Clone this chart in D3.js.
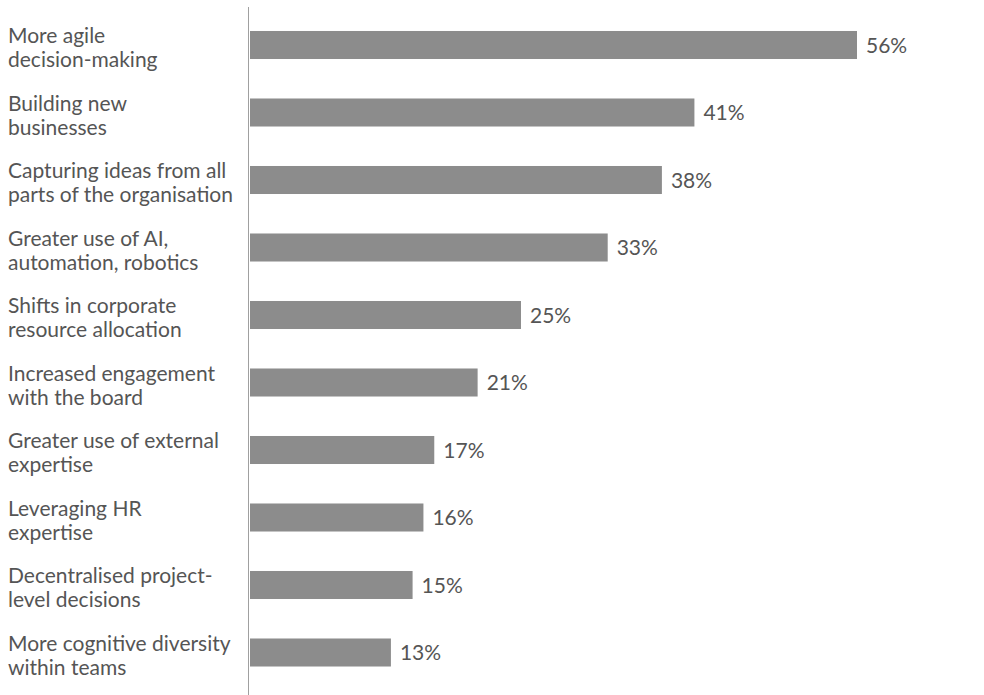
<!DOCTYPE html>
<html>
<head>
<meta charset="utf-8">
<script src="https://cdn.jsdelivr.net/npm/d3@7"></script>
<style>
  html, body { margin: 0; padding: 0; background: #fff; }
  svg { display: block; }
  text { font-family: Lato, "Open Sans", sans-serif; }
</style>
</head>
<body>
<svg id="chart" width="984" height="695"></svg>
<script>
// Share of respondents citing each change
const categories = [
  ["More agile", "decision-making"],
  ["Building new", "businesses"],
  ["Capturing ideas from all", "parts of the organisation"],
  ["Greater use of AI,", "automation, robotics"],
  ["Shifts in corporate", "resource allocation"],
  ["Increased engagement", "with the board"],
  ["Greater use of external", "expertise"],
  ["Leveraging HR", "expertise"],
  ["Decentralised project-", "level decisions"],
  ["More cognitive diversity", "within teams"]
];
const values = [56, 41, 38, 33, 25, 21, 17, 16, 15, 13];
const valueLabels = ["56%", "41%", "38%", "33%", "25%", "21%", "17%", "16%", "15%", "13%"];

const svg = d3.select("#chart");
const axisX = 248.5;
const barStart = 250;

const keys = categories.map(c => c.join(" "));

const y = d3.scaleBand()
  .domain(keys)
  .range([11.25, 686.25])
  .paddingInner(0.585)
  .paddingOuter(0.2925);

const x = d3.scaleLinear()
  .domain([0, 56])
  .range([barStart, barStart + 607]);

// vertical baseline
svg.append("line")
  .attr("x1", axisX).attr("x2", axisX)
  .attr("y1", 7).attr("y2", 695)
  .attr("stroke", "#a0a0a0")
  .attr("stroke-width", 1);

const rows = svg.selectAll("g.row")
  .data(values.map((v, i) => ({ key: keys[i], lines: categories[i], value: v, label: valueLabels[i] })))
  .join("g")
  .attr("class", "row");

rows.append("rect")
  .attr("x", x(0))
  .attr("y", d => y(d.key))
  .attr("width", d => x(d.value) - x(0))
  .attr("height", y.bandwidth())
  .attr("fill", "#8c8c8c");

rows.append("text")
  .attr("x", d => x(d.value) + 9)
  .attr("y", d => y(d.key) + y.bandwidth() / 2)
  .attr("dy", "0.36em")
  .attr("fill", "#555")
  .attr("font-size", 21)
  .text(d => d.label);

const labels = rows.append("text")
  .attr("x", 8)
  .attr("y", d => y(d.key) + y.bandwidth() / 2 - 2)
  .attr("fill", "#555")
  .attr("font-size", 21);

labels.selectAll("tspan")
  .data(d => d.lines)
  .join("tspan")
  .attr("x", 8)
  .attr("dy", (d, i) => i === 0 ? 0 : 24)
  .text(d => d);
</script>
</body>
</html>
